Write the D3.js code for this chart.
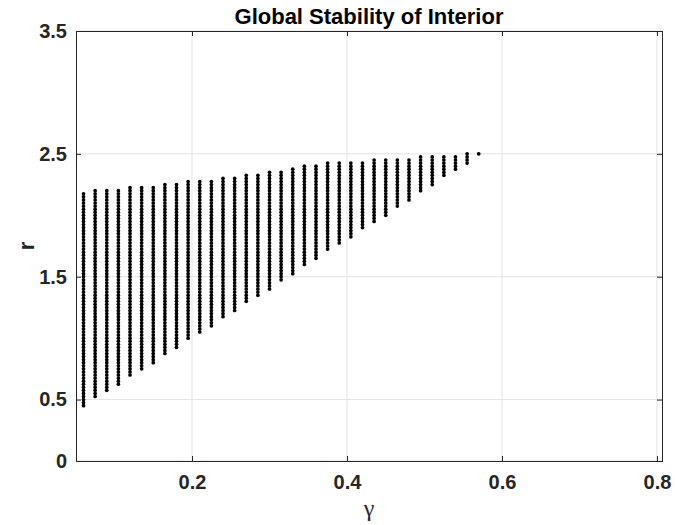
<!DOCTYPE html>
<html>
<head>
<meta charset="utf-8">
<script src="https://cdn.jsdelivr.net/npm/d3@7"></script>
<style>
  body { margin: 0; background: #fff; }
  text { font-family: "Liberation Sans", Arial, sans-serif; }
</style>
</head>
<body>
<svg id="chart"></svg>
<script>
// one column of grid points per gamma value, r sampled every rStep between rLow and rHigh
var gammas = [0.06, 0.075, 0.09, 0.105, 0.12, 0.135, 0.15, 0.165, 0.18, 0.195,
              0.21, 0.225, 0.24, 0.255, 0.27, 0.285, 0.3, 0.315, 0.33, 0.345,
              0.36, 0.375, 0.39, 0.405, 0.42, 0.435, 0.45, 0.465, 0.48, 0.495,
              0.51, 0.525, 0.54, 0.555, 0.57];
var rLow = [0.45, 0.525, 0.575, 0.625, 0.7, 0.75, 0.8, 0.875, 0.925, 1.0,
            1.05, 1.1, 1.175, 1.225, 1.3, 1.35, 1.4, 1.475, 1.525, 1.6,
            1.65, 1.725, 1.775, 1.825, 1.9, 1.95, 2.0, 2.075, 2.125, 2.2,
            2.25, 2.325, 2.375, 2.425, 2.5];
var rHigh = [2.175, 2.2, 2.2, 2.2, 2.225, 2.225, 2.225, 2.25, 2.25, 2.275,
             2.275, 2.275, 2.3, 2.3, 2.325, 2.325, 2.35, 2.35, 2.375, 2.4,
             2.4, 2.425, 2.425, 2.425, 2.425, 2.45, 2.45, 2.45, 2.45, 2.475,
             2.475, 2.475, 2.475, 2.5, 2.5];
var rStep = 0.025;
var xTicks = [0.2, 0.4, 0.6, 0.8];
var yTicks = [0, 0.5, 1.5, 2.5, 3.5];

var W = 675, H = 525;
var margin = {left: 76, top: 31, right: 13, bottom: 64};
var w = W - margin.left - margin.right,
    h = H - margin.top - margin.bottom;

var svg = d3.select("svg#chart").attr("width", W).attr("height", H);

var x = d3.scaleLinear().domain([0.0503, 0.8065]).range([0, w]);
var y = d3.scaleLinear().domain([0, 3.5]).range([h, 0]);

var points = [];
gammas.forEach(function(g, i) {
  var n = Math.round((rHigh[i] - rLow[i]) / rStep);
  for (var k = 0; k <= n; k++) points.push({g: g, r: rLow[i] + k * rStep});
});

var g = svg.append("g").attr("transform", "translate(" + margin.left + "," + margin.top + ")");

// grid
g.append("g").selectAll("line.vx")
  .data(xTicks).enter().append("line")
    .attr("x1", function(d) { return x(d); }).attr("x2", function(d) { return x(d); })
    .attr("y1", 0).attr("y2", h)
    .attr("stroke", "#e3e3e3").attr("stroke-width", 1);
g.append("g").selectAll("line.hy")
  .data(yTicks).enter().append("line")
    .attr("y1", function(d) { return y(d); }).attr("y2", function(d) { return y(d); })
    .attr("x1", 0).attr("x2", w)
    .attr("stroke", "#e3e3e3").attr("stroke-width", 1);

// points
g.append("g").selectAll("circle")
  .data(points).enter().append("circle")
    .attr("cx", function(d) { return x(d.g); })
    .attr("cy", function(d) { return y(d.r); })
    .attr("r", 1.85)
    .attr("fill", "#000");

// axes, MATLAB style: inward ticks, box
function styleAxis(sel) {
  sel.select(".domain").remove();
  sel.selectAll(".tick line").attr("stroke", "#262626");
  sel.selectAll(".tick text")
    .attr("fill", "#262626")
    .style("font-size", "20px")
    .style("font-weight", "bold")
    .style("font-family", "'Liberation Sans', Arial, sans-serif");
}

g.append("g").attr("transform", "translate(0," + h + ")")
  .call(d3.axisBottom(x).tickValues(xTicks).tickFormat(d3.format(".1f")).tickSizeInner(-5).tickSizeOuter(0).tickPadding(14))
  .call(styleAxis);
g.append("g")
  .call(d3.axisTop(x).tickValues(xTicks).tickFormat("").tickSizeInner(-5).tickSizeOuter(0))
  .call(styleAxis);
g.append("g")
  .call(d3.axisLeft(y).tickValues(yTicks).tickFormat(function(d) { return d === 0 ? "0" : d3.format(".1f")(d); }).tickSizeInner(-5).tickSizeOuter(0).tickPadding(9))
  .call(styleAxis);
g.append("g").attr("transform", "translate(" + w + ",0)")
  .call(d3.axisRight(y).tickValues(yTicks).tickFormat("").tickSizeInner(-5).tickSizeOuter(0))
  .call(styleAxis);

g.append("rect")
  .attr("width", w).attr("height", h)
  .attr("fill", "none").attr("stroke", "#262626").attr("stroke-width", 1)
  .attr("shape-rendering", "crispEdges");

// labels
svg.append("text")
  .attr("x", margin.left + w / 2).attr("y", 24)
  .attr("text-anchor", "middle")
  .style("font-size", "22px").style("font-weight", "bold")
  .text("Global Stability of Interior");

svg.append("text")
  .attr("transform", "translate(34," + (margin.top + h / 2) + ") rotate(-90)")
  .attr("text-anchor", "middle")
  .style("font-size", "22px").style("font-weight", "bold").attr("fill", "#262626")
  .text("r");

svg.append("text")
  .attr("x", margin.left + w / 2).attr("y", 516)
  .attr("text-anchor", "middle")
  .style("font-family", "'Liberation Serif', 'DejaVu Serif', serif")
  .style("font-size", "24px").attr("fill", "#262626")
  .text("γ");
</script>
</body>
</html>
